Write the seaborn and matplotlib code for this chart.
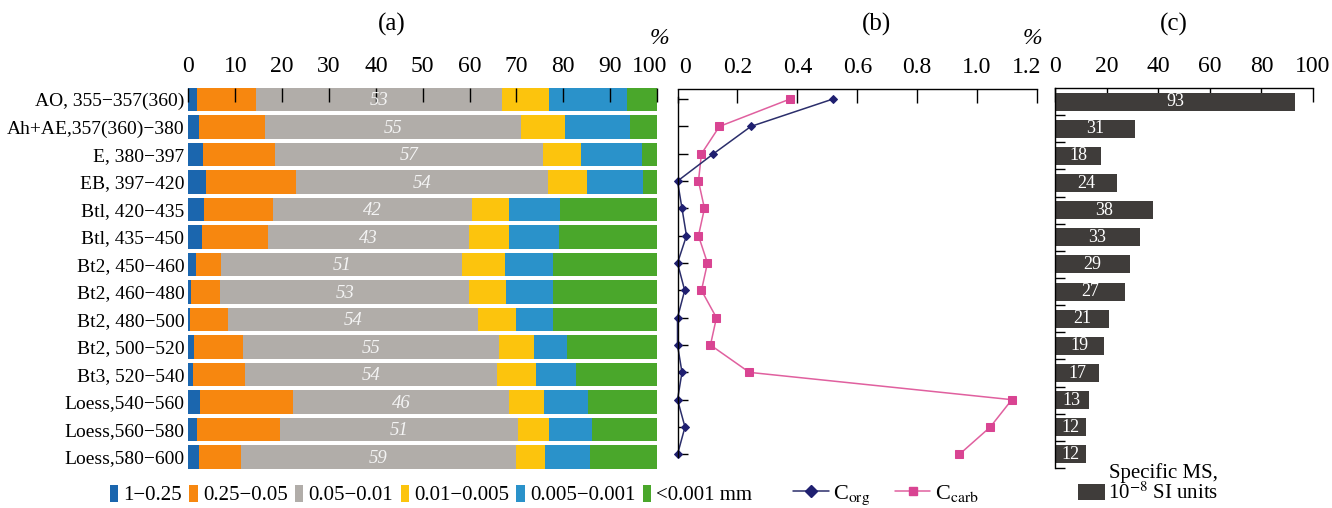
import numpy as np
import pandas as pd
import seaborn as sns
import matplotlib.pyplot as plt
from matplotlib.patches import Patch
from matplotlib.lines import Line2D
from matplotlib.transforms import ScaledTranslation

horizons = ['AO, 355−357(360)', 'Ah+AE,357(360)−380', 'E, 380−397', 'EB, 397−420',
            'Btl, 420−435', 'Btl, 435−450', 'Bt2, 450−460', 'Bt2, 460−480',
            'Bt2, 480−500', 'Bt2, 500−520', 'Bt3, 520−540', 'Loess,540−560',
            'Loess,560−580', 'Loess,580−600']

# particle size fractions, %
fr_1_025 = [1.9, 2.3, 3.1, 3.8, 3.4, 2.8, 1.6, 0.6, 0.4, 1.1, 0.9, 2.5, 1.9, 2.3]
fr_025_005 = [12.5, 14.1, 15.4, 19.2, 14.6, 14.1, 5.4, 6.2, 8.0, 10.5, 11.1, 19.9, 17.7, 8.9]
fr_005_001 = [52.5, 54.6, 57.2, 53.7, 42.5, 43.0, 51.4, 53.1, 53.4, 54.6, 53.8, 46.1, 50.7, 58.6]
fr_001_0005 = [10.0, 9.4, 8.1, 8.4, 8.0, 8.6, 9.1, 7.9, 8.0, 7.5, 8.4, 7.4, 6.6, 6.2]
fr_0005_0001 = [16.7, 13.9, 13.0, 11.9, 10.7, 10.6, 10.4, 10.1, 8.1, 7.1, 8.6, 9.3, 9.2, 9.6]
fr_lt_0001 = [6.4, 5.7, 3.2, 3.0, 20.8, 20.9, 22.1, 22.1, 22.1, 19.2, 17.2, 14.8, 13.9, 14.4]
silt_labels = [53, 55, 57, 54, 42, 43, 51, 53, 54, 55, 54, 46, 51, 59]

fraction_names = ['1−0.25', '0.25−0.05', '0.05−0.01', '0.01−0.005', '0.005−0.001', '<0.001 mm']
fraction_colors = ['#1b66ae', '#f7870f', '#b1ada9', '#fcc40d', '#2a92ca', '#4aa72b']

# carbon, %
c_org = [0.518, 0.245, 0.12, 0.0, 0.015, 0.03, 0.0, 0.024, 0.0, 0.0, 0.015, 0.0, 0.025, 0.0]
c_carb = [0.375, 0.14, 0.08, 0.07, 0.09, 0.07, 0.10, 0.08, 0.13, 0.11, 0.24, 1.116, 1.044, 0.941]

# specific magnetic susceptibility
ms = [93, 31, 18, 24, 38, 33, 29, 27, 21, 19, 17, 13, 12, 12]

sns.set_theme(style='white')
plt.rcParams['font.family'] = ['Liberation Serif', 'DejaVu Serif']
plt.rcParams['mathtext.fontset'] = 'stix'
for k in ['text.color', 'axes.labelcolor', 'xtick.color', 'ytick.color']:
    plt.rcParams[k] = 'black'

W, H = 1332, 508
fig = plt.figure(figsize=(W / 100, H / 100), dpi=100)


def box(x0, x1, y0, y1):
    return [x0 / W, 1 - y1 / H, (x1 - x0) / W, (y1 - y0) / H]


ax_a = fig.add_axes(box(188.5, 657, 88, 470))
ax_b = fig.add_axes(box(677.5, 1037, 89, 468))
ax_c = fig.add_axes(box(1055, 1313, 88, 468))

# ---- (a) stacked particle size bars
frac = pd.DataFrame(dict(zip(fraction_names, [fr_1_025, fr_025_005, fr_005_001,
                                              fr_001_0005, fr_0005_0001, fr_lt_0001])))
cum = frac.cumsum(axis=1)
for name, col in reversed(list(zip(fraction_names, fraction_colors))):
    sns.barplot(x=cum[name].values, y=horizons, orient='h', color=col, width=0.85,
                saturation=1, linewidth=0, ax=ax_a)

mid = cum['0.25−0.05'] + frac['0.05−0.01'] / 2
for i, (xm, lab) in enumerate(zip(mid, silt_labels)):
    ax_a.text(xm, i + 0.05, str(lab), color='#f4f4f4', style='italic', fontsize=13.5,
              ha='center', va='center')

ax_a.set_xlim(0, 100)
ax_a.set_ylim(13.47, -0.42)
ax_a.set_xlabel('')
ax_a.set_ylabel('')
ax_a.xaxis.tick_top()
ax_a.set_xticks(range(0, 101, 10))
ax_a.tick_params(axis='x', direction='in', length=10, width=1, pad=8, labelsize=17,
                 top=True, bottom=False)
ax_a.tick_params(axis='y', length=0, pad=3, labelsize=14)
ax_a.set_axisbelow(False)
for s in ax_a.spines.values():
    s.set_visible(False)

# ---- (b) carbon profiles
rows = np.arange(len(horizons))
carbon = pd.DataFrame({'row': rows, 'Corg': c_org, 'Ccarb': c_carb})
sns.lineplot(data=carbon, x='Ccarb', y='row', sort=False, estimator=None, ax=ax_b,
             color='#e0609f', lw=1.1, marker='s', markersize=5.5,
             markerfacecolor='#d94492', markeredgecolor='#d94492', clip_on=False)
sns.lineplot(data=carbon, x='Corg', y='row', sort=False, estimator=None, ax=ax_b,
             color='#2b2e6b', lw=1.1, marker='D', markersize=4,
             markerfacecolor='#1f1f70', markeredgecolor='#1f1f70', clip_on=False)
ax_b.set_xlim(0, 1.2)
ax_b.set_ylim(13.5, -0.37)
ax_b.set_xlabel('')
ax_b.set_ylabel('')
ax_b.xaxis.tick_top()
ax_b.set_xticks([0, 0.2, 0.4, 0.6, 0.8, 1.0, 1.2],
                ['0', '0.2', '0.4', '0.6', '0.8', '1.0', '1.2'])
ax_b.set_yticks(rows, [])
ax_b.tick_params(axis='x', direction='in', length=10, width=1, pad=8, labelsize=17,
                 top=True, bottom=False)
ax_b.tick_params(axis='y', direction='in', length=7, width=1, left=True)
ax_b.spines['right'].set_visible(False)
ax_b.spines['bottom'].set_visible(False)
ax_b.spines['left'].set_bounds(-0.08, 13.1)
for s in ['top', 'left']:
    ax_b.spines[s].set_color('black')
    ax_b.spines[s].set_linewidth(1)

# ---- (c) magnetic susceptibility
sns.barplot(x=ms, y=horizons, orient='h', color='#3f3c3a', width=0.66, saturation=1,
            linewidth=0, ax=ax_c)
ax_c.bar_label(ax_c.containers[0], labels=[str(v) for v in ms], label_type='center',
               color='white', fontsize=13)
ax_c.set_xlim(0, 100)
ax_c.set_ylim(13.5, -0.5)
ax_c.set_xlabel('')
ax_c.set_ylabel('')
ax_c.xaxis.tick_top()
ax_c.set_xticks(range(0, 101, 20))
ax_c.set_yticks(np.arange(0.5, 14, 1), [])
ax_c.tick_params(axis='x', direction='in', length=10, width=1, pad=8, labelsize=17,
                 top=True, bottom=False)
ax_c.tick_params(axis='y', direction='in', length=7, width=1, left=True)
ax_c.spines['right'].set_visible(False)
ax_c.spines['bottom'].set_visible(False)
for s in ['top', 'left']:
    ax_c.spines[s].set_color('black')
    ax_c.spines[s].set_linewidth(1)

# nudge the end labels so neighbouring axes don't collide
def nudge(label, px):
    label.set_transform(label.get_transform() + ScaledTranslation(px / 100, 0, fig.dpi_scale_trans))


nudge(ax_a.get_xticklabels()[-1], -7)
nudge(ax_b.get_xticklabels()[0], 7)
nudge(ax_b.get_xticklabels()[-1], -10)

# titles and units
for x, t in [(392, '(a)'), (876, '(b)'), (1174, '(c)')]:
    fig.text(x / W, 1 - 24 / H, t, ha='center', va='center', fontsize=18)
for x in [659, 1032]:
    fig.text(x / W, 1 - 38 / H, '%', ha='center', va='center', fontsize=17, style='italic')

# legends
fig.legend(handles=[Patch(facecolor=c, linewidth=0) for c in fraction_colors],
           labels=fraction_names, ncol=6, loc='center left',
           bbox_to_anchor=(110 / W, 1 - 495 / H), frameon=False, fontsize=15,
           handlelength=0.4, handleheight=0.9, handletextpad=0.25, columnspacing=0.35,
           borderpad=0, borderaxespad=0)
fig.legend(handles=[Line2D([], [], color='#2b2e6b', lw=1.1, marker='D', markersize=6,
                           markerfacecolor='#1f1f70', markeredgecolor='#1f1f70'),
                    Line2D([], [], color='#e0609f', lw=1.1, marker='s', markersize=6,
                           markerfacecolor='#d94492', markeredgecolor='#d94492')],
           labels=[r'C$_{\mathrm{org}}$', r'C$_{\mathrm{carb}}$'], ncol=2, loc='center left',
           bbox_to_anchor=(793 / W, 1 - 495 / H), frameon=False, fontsize=16,
           handlelength=1.6, handletextpad=0.2, columnspacing=1.1,
           borderpad=0, borderaxespad=0)
fig.legend(handles=[Patch(facecolor='#3f3c3a', linewidth=0)], labels=[r'10$^{-8}$ SI units'],
           title='Specific MS,', title_fontsize=15, fontsize=15, alignment='right',
           loc='lower left', bbox_to_anchor=(1078 / W, 4 / H), frameon=False,
           handlelength=1.3, handleheight=0.8, handletextpad=0.15,
           borderpad=0, borderaxespad=0, labelspacing=0)

fig.savefig('out.png', dpi=100)
